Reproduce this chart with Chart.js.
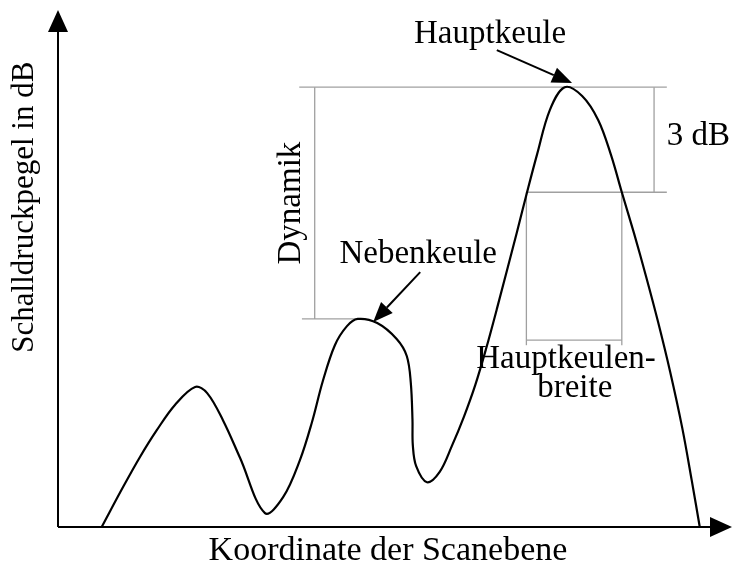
<!DOCTYPE html>
<html>
<head>
<meta charset="utf-8">
<script src="https://cdn.jsdelivr.net/npm/chart.js@4.4.1/dist/chart.umd.min.js"></script>
<style>
  html, body { margin: 0; padding: 0; background: #fff; }
  canvas { display: block; }
</style>
</head>
<body>
<canvas id="lobeChart" width="732" height="567"></canvas>
<script>
// Richtcharakteristik (Koordinate 0..100, Pegel 0..100)
const coordX = [6.5, 9.7, 12.2, 14.7, 17.4, 20.4, 22.2, 24.6, 27.1, 30.8,
    33.5, 36.0, 37.8, 39.4, 41.2, 43.0, 44.6, 47.5, 50.4, 51.9, 52.5, 52.75, 52.8,
    53.3, 54.9, 56.8, 58.6, 60.4, 62.1, 63.7, 65.3, 68.3, 69.8, 71.3, 73.2, 75.4,
    78.0, 80.4, 82.3, 83.9, 85.7, 87.5, 89.3, 91.1, 92.9, 94.3, 95.5];
const levelDb = [0, 7.8, 13.6, 18.8, 23.7, 27.2, 26.0, 20.6, 13.4, 2.7,
    5.8, 13.0, 20.4, 28.3, 35.3, 39.0, 40.4, 39.6, 36.5, 33.2, 28.0, 20.8, 15.9,
    11.8, 8.7, 10.7, 15.7, 21.4, 27.6, 34.6, 42.3, 57.3, 65.0, 72.4, 81.0, 85.4,
    83.7, 79.0, 72.2, 65.0, 57.1, 48.7, 39.8, 30.1, 19.2, 9.1, 0];

// Kennwerte
const mainPeak = [75.4, 85.4];   // Hauptkeule (x, dB)
const sidePeak = [44.6, 40.4];   // Nebenkeule (x, dB)
const level3dB = 65.0;           // Pegel 3 dB unter Maximum
const beamEdges = [69.7, 83.9];  // Hauptkeulenbreite

const labels = {
    xAxis: "Koordinate der Scanebene",
    yAxis: "Schalldruckpegel in dB",
    main: "Hauptkeule",
    side: "Nebenkeule",
    dyn: "Dynamik",
    db3: "3 dB",
    width1: "Hauptkeulen-",
    width2: "breite",
};

const SERIF = '"Liberation Serif", "Times New Roman", serif';
const GRAY = "#a0a0a0";

function arrow(c, x1, y1, x2, y2, len, half) {
    const a = Math.atan2(y2 - y1, x2 - x1);
    const bx = x2 - len * Math.cos(a);
    const by = y2 - len * Math.sin(a);
    c.beginPath();
    c.moveTo(x1, y1);
    c.lineTo(bx, by);
    c.stroke();
    c.beginPath();
    c.moveTo(x2, y2);
    c.lineTo(bx + half * Math.sin(a), by - half * Math.cos(a));
    c.lineTo(bx - half * Math.sin(a), by + half * Math.cos(a));
    c.closePath();
    c.fill();
}

function gline(c, x1, y1, x2, y2) {
    c.beginPath();
    c.moveTo(x1, y1);
    c.lineTo(x2, y2);
    c.stroke();
}

// Achsen und Beschriftungen
const sketchPlugin = {
    id: "sketch",
    beforeDatasetsDraw(chart) {
        const c = chart.ctx;
        const xs = chart.scales.x;
        const ys = chart.scales.y;
        const px = (v) => xs.getPixelForValue(v);
        const py = (v) => ys.getPixelForValue(v);
        const area = chart.chartArea;

        c.save();
        // graue Hilfslinien
        c.strokeStyle = GRAY;
        c.lineWidth = 1.3;
        gline(c, px(35.9), py(mainPeak[1]), px(90.6), py(mainPeak[1]));
        gline(c, px(36.3), py(sidePeak[1]), px(sidePeak[0]), py(sidePeak[1]));
        gline(c, px(38.2), py(mainPeak[1]), px(38.2), py(sidePeak[1]));
        gline(c, px(88.7), py(mainPeak[1]), px(88.7), py(level3dB));
        gline(c, px(beamEdges[0]), py(level3dB), px(90.6), py(level3dB));
        gline(c, px(beamEdges[0]), py(level3dB), px(beamEdges[0]), py(35.3));
        gline(c, px(beamEdges[1]), py(level3dB), px(beamEdges[1]), py(35.3));
        gline(c, px(beamEdges[0]), py(36.3), px(beamEdges[1]), py(36.3));

        // Achsen
        c.strokeStyle = "#000";
        c.fillStyle = "#000";
        c.lineWidth = 2;
        arrow(c, area.left, area.bottom, area.left, area.top - 2, 22, 10);
        arrow(c, area.left, area.bottom, area.right + 2, area.bottom, 22, 10);

        // Pfeile
        arrow(c, px(65.3), py(92.6), px(76.5), py(86.2), 20, 8);
        arrow(c, px(53.9), py(49.5), px(46.9), py(39.8), 20, 8);

        // Texte
        c.font = "33px " + SERIF;
        c.textBaseline = "alphabetic";
        c.textAlign = "center";
        c.fillText(labels.main, px(64.3), py(94.0));
        c.fillText(labels.side, px(53.6), py(51.3));
        c.fillText(labels.width1, px(75.6), py(30.9));
        c.fillText(labels.width2, px(76.9), py(25.2));
        c.textAlign = "left";
        c.fillText(labels.db3, px(90.6), py(74.2));

        c.textAlign = "center";
        c.save();
        c.translate(px(36.0), py(62.9));
        c.rotate(-Math.PI / 2);
        c.fillText(labels.dyn, 0, 0);
        c.restore();

        c.font = "34px " + SERIF;
        c.fillText(labels.xAxis, px(49.1), area.bottom + 33);

        c.font = "31px " + SERIF;
        c.save();
        c.translate(area.left - 25, py(62.1));
        c.rotate(-Math.PI / 2);
        c.fillText(labels.yAxis, 0, 0);
        c.restore();
        c.restore();
    },
};

const ctx = document.getElementById("lobeChart").getContext("2d");

const lobeChart = new Chart(ctx, {
    type: "line",
    data: {
        datasets: [
            {
                data: coordX.map((x, i) => ({ x: x, y: levelDb[i] })),
                borderColor: "#000",
                borderWidth: 2.2,
                pointRadius: 0,
                fill: false,
                tension: 0.35,
                clip: false,
            },
        ],
    },
    options: {
        responsive: false,
        animation: false,
        layout: { padding: { left: 58, right: 2, top: 12, bottom: 40 } },
        plugins: { legend: { display: false }, tooltip: { enabled: false } },
        scales: {
            x: { type: "linear", display: false, min: 0, max: 100 },
            y: { display: false, min: 0, max: 100 },
        },
    },
    plugins: [sketchPlugin],
});
</script>
</body>
</html>
